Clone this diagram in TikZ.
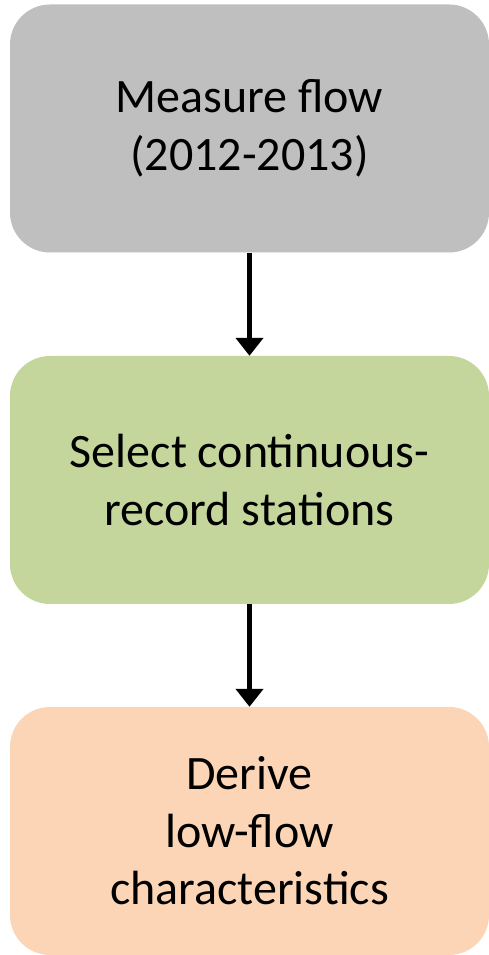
\documentclass[tikz,border=0pt]{standalone}
\usepackage{fontspec}
\setmainfont{Carlito}
\usetikzlibrary{arrows.meta}
\definecolor{boxgray}{HTML}{BFBFBF}
\definecolor{boxgreen}{HTML}{C4D69B}
\definecolor{boxpeach}{HTML}{FBD5B5}
\tikzset{
  stage/.style={minimum width=479pt, minimum height=248pt, rounded corners=40pt, align=center,
    font=\fontsize{48pt}{57.5pt}\selectfont, inner sep=0pt, text=black},
  flow/.style={line width=5pt, -{Triangle[width=27pt,length=18pt]}}
}
\begin{document}
\begin{tikzpicture}[x=1pt,y=1pt]
\useasboundingbox (0,0) rectangle (489,955);
\node[stage, fill=boxgray] (a) at (249.5,826.5) {Measure flow\\(2012-2013)};
\node[stage, fill=boxgreen] (b) at (249.5,475) {Select continuous-\\record stations};
\node[stage, fill=boxpeach] (c) at (249.5,124) {Derive\\low-flow\\characteristics};
\draw[flow] (a.south) -- (b.north);
\draw[flow] (b.south) -- (c.north);
\end{tikzpicture}
\end{document}
